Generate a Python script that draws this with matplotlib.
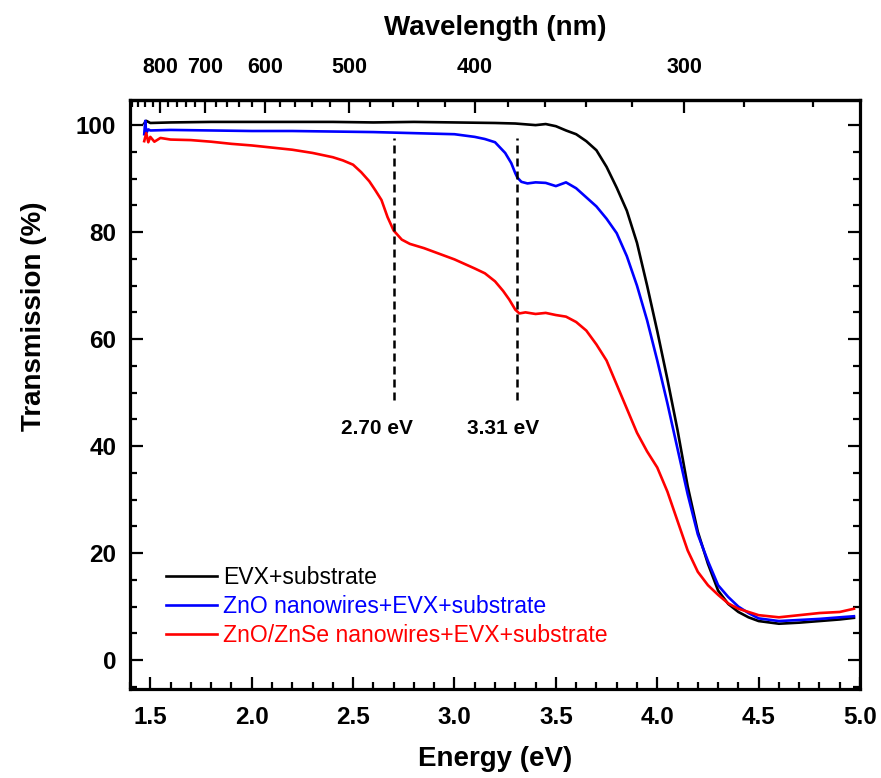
import matplotlib.pyplot as plt
import numpy as np
from matplotlib.ticker import MultipleLocator

plt.rcParams['font.family'] = ['Liberation Sans', 'DejaVu Sans']

# EVX+substrate
black_E = [1.47, 1.48, 1.50, 1.60, 1.80, 2.00, 2.20, 2.40, 2.60, 2.80, 3.00, 3.20, 3.30, 3.40, 3.45,
           3.50, 3.55, 3.60, 3.65, 3.70, 3.75, 3.80, 3.85, 3.90, 3.95, 4.00, 4.05, 4.10, 4.15, 4.20,
           4.25, 4.30, 4.35, 4.40, 4.45, 4.50, 4.60, 4.70, 4.80, 4.90, 4.97]
black_T = [100.3, 100.8, 100.4, 100.5, 100.6, 100.6, 100.6, 100.6, 100.5, 100.6, 100.5, 100.4, 100.3, 100.0, 100.2,
           99.8, 99.0, 98.3, 97.0, 95.3, 92.2, 88.3, 84.0, 78.0, 70.0, 61.5, 52.5, 43.0, 32.5, 24.0,
           18.0, 13.0, 10.5, 9.0, 8.0, 7.3, 6.8, 7.0, 7.3, 7.6, 7.9]

# ZnO nanowires+EVX+substrate
blue_E = [1.47, 1.475, 1.48, 1.49, 1.50, 1.60, 1.80, 2.00, 2.20, 2.40, 2.60, 2.80, 3.00, 3.10, 3.15,
          3.20, 3.22, 3.25, 3.28, 3.30, 3.31, 3.33, 3.36, 3.40, 3.45, 3.50, 3.55, 3.60, 3.65, 3.70,
          3.75, 3.80, 3.85, 3.90, 3.95, 4.00, 4.05, 4.10, 4.15, 4.20, 4.25, 4.30, 4.35, 4.40, 4.45,
          4.50, 4.60, 4.70, 4.80, 4.90, 4.97]
blue_T = [98.3, 100.8, 98.5, 99.2, 99.0, 99.1, 99.0, 98.9, 98.9, 98.8, 98.7, 98.5, 98.3, 97.8, 97.4,
          96.8, 96.0, 94.8, 92.9, 91.0, 90.2, 89.4, 89.1, 89.3, 89.2, 88.6, 89.3, 88.2, 86.5, 84.8,
          82.5, 79.8, 75.5, 70.0, 63.5, 56.0, 48.0, 39.5, 31.0, 23.5, 18.5, 14.0, 11.8, 10.0, 8.8,
          7.8, 7.3, 7.5, 7.7, 8.0, 8.2]

# ZnO/ZnSe nanowires+EVX+substrate
red_E = [1.47, 1.48, 1.49, 1.50, 1.52, 1.55, 1.60, 1.70, 1.80, 1.90, 2.00, 2.10, 2.20, 2.30, 2.40,
         2.45, 2.50, 2.54, 2.58, 2.61, 2.64, 2.67, 2.70, 2.74, 2.78, 2.85, 2.90, 3.00, 3.10, 3.15,
         3.20, 3.24, 3.27, 3.30, 3.32, 3.35, 3.40, 3.45, 3.50, 3.55, 3.60, 3.65, 3.70, 3.75, 3.80,
         3.85, 3.90, 3.95, 4.00, 4.05, 4.10, 4.15, 4.20, 4.25, 4.30, 4.35, 4.40, 4.45, 4.50, 4.60,
         4.70, 4.80, 4.90, 4.97]
red_T = [97.0, 98.5, 96.8, 97.8, 96.9, 97.6, 97.3, 97.2, 96.9, 96.5, 96.2, 95.8, 95.4, 94.8, 94.0,
         93.4, 92.6, 91.2, 89.5, 87.8, 86.0, 82.8, 80.3, 78.6, 77.8, 77.0, 76.3, 74.9, 73.2, 72.3,
         70.8, 69.0, 67.4, 65.5, 64.8, 65.0, 64.7, 64.9, 64.5, 64.2, 63.2, 61.6, 59.0, 56.0, 51.5,
         47.0, 42.5, 39.0, 36.0, 31.5, 26.0, 20.5, 16.5, 14.0, 12.2, 10.6, 9.6, 9.0, 8.4, 8.0,
         8.4, 8.8, 9.0, 9.6]

labels = ['EVX+substrate', 'ZnO nanowires+EVX+substrate', 'ZnO/ZnSe nanowires+EVX+substrate']
colors = ['black', 'blue', 'red']

gap_E = [2.70, 3.31]
gap_text = ['2.70 eV', '3.31 eV']
gap_text_E = [2.617, 3.239]
dash_top = 97.6
dash_bottom = 48.6

fig = plt.figure(figsize=(8.81, 7.78), dpi=100)
ax = fig.add_axes([0.1476, 0.1144, 0.8286, 0.7571])

for E, T, lab, c in zip([black_E, blue_E, red_E], [black_T, blue_T, red_T], labels, colors):
    ax.plot(E, T, color=c, lw=1.9, label=lab)

for e in gap_E:
    ax.plot([e, e], [dash_bottom, dash_top], color='black', lw=1.8, dashes=(3.2, 2.0))
for e, t in zip(gap_text_E, gap_text):
    ax.text(e, 43.3, t, ha='center', va='center', fontsize=15, fontweight='bold')

ax.set_xlim(1.4, 5.0)
ax.set_ylim(-5.4, 104.7)
ax.xaxis.set_major_locator(MultipleLocator(0.5))
ax.xaxis.set_minor_locator(MultipleLocator(0.1))
ax.yaxis.set_major_locator(MultipleLocator(20))
ax.yaxis.set_minor_locator(MultipleLocator(5))
ax.xaxis.set_major_formatter(plt.FormatStrFormatter('%.1f'))

ax.tick_params(which='both', direction='in', width=1.6, top=False, right=True)
ax.tick_params(which='major', length=9)
ax.tick_params(which='minor', length=5)
ax.tick_params(axis='x', which='major', pad=12, labelsize=17.5)
ax.tick_params(axis='y', which='major', pad=10, labelsize=17.5)
for lab in ax.get_xticklabels() + ax.get_yticklabels():
    lab.set_fontweight('bold')
for s in ax.spines.values():
    s.set_linewidth(2.3)

ax.set_xlabel('Energy (eV)', fontsize=20, fontweight='bold')
ax.xaxis.set_label_coords(0.5, -0.097)
ax.set_ylabel('Transmission (%)', fontsize=20, fontweight='bold')
ax.yaxis.set_label_coords(-0.114, 0.632)


def e2l(x):
    return 1239.84 / np.maximum(np.asarray(x, dtype=float), 1e-6)


sec = ax.secondary_xaxis('top', functions=(e2l, e2l))
sec.set_xticks([800, 700, 600, 500, 400, 300])
sec.xaxis.set_minor_locator(MultipleLocator(20))
sec.tick_params(which='both', direction='in', width=1.6)
sec.tick_params(which='major', length=9, pad=16, labelsize=15.5)
sec.tick_params(which='minor', length=5)
for lab in sec.get_xticklabels():
    lab.set_fontweight('bold')
sec.spines['top'].set_linewidth(2.3)
fig.text(0.5619, 0.964, 'Wavelength (nm)', ha='center', va='center', fontsize=20, fontweight='bold')

leg = ax.legend(loc='upper left', bbox_to_anchor=(0.049, 0.209), frameon=False, fontsize=16.6,
                handlelength=2.2, handletextpad=0.3, labelspacing=0.27, borderpad=0, borderaxespad=0)
for txt, c in zip(leg.get_texts(), colors):
    txt.set_color(c)

fig.savefig('out.png', dpi=100)
